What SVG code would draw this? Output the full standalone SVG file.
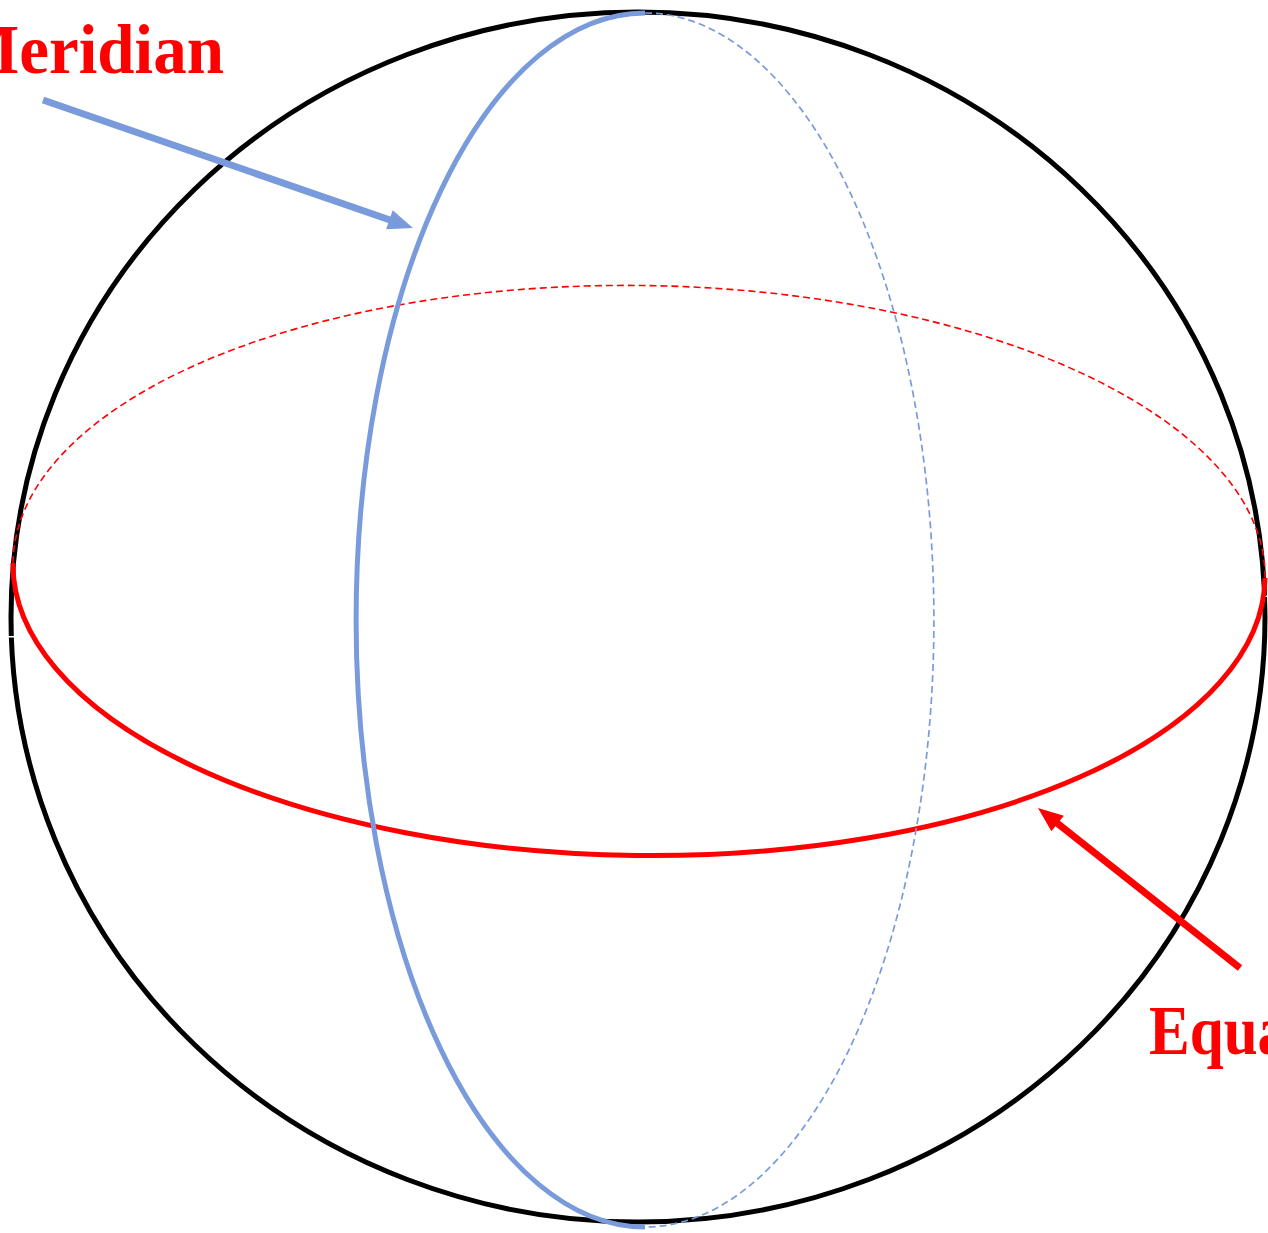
<svg xmlns="http://www.w3.org/2000/svg" width="1268" height="1233" viewBox="0 0 1268 1233">
<style>
.sphere{fill:none;stroke:#000;stroke-width:5}
.blue{fill:none;stroke:#7A9BDB;stroke-width:5}
.blued{fill:none;stroke:#7A9BDB;stroke-width:1.7;stroke-dasharray:7 4}
.red{fill:none;stroke:#FF0000;stroke-width:5}
.redd{fill:none;stroke:#FF0000;stroke-width:1.6;stroke-dasharray:7 4}
.lbl{font-family:"Liberation Serif","Times New Roman",serif;font-weight:bold;font-size:70px;fill:#FF0000}
</style>
<rect width="1268" height="1233" fill="#fff"/>
<g id="sphere">
<ellipse class="sphere" cx="638" cy="617" rx="627" ry="605"/>
<rect x="7" y="636" width="9" height="1.5" fill="#fff"/>
<rect x="1261" y="595.5" width="7" height="1.5" fill="#fff"/>
</g>
<g id="equator">
<path class="redd" d="M 13 563 A 626 285 0.69 0 1 1265 578"/>
<path class="red" d="M 13 563 A 626 285 0.69 0 0 1265 578"/>
</g>
<g id="meridian">
<path class="blued" d="M 645 13 A 289 607 0 0 1 645 1227"/>
<path class="blue" d="M 645 13 A 289 607 0 0 0 645 1227"/>
</g>
<g id="connectors">
<line x1="43" y1="100" x2="390" y2="220" stroke="#7A9BDB" stroke-width="7"/>
<polygon points="413,228 392.7,210.3 386.1,229.3" fill="#7A9BDB"/>
<line x1="1240" y1="968" x2="1057" y2="823" stroke="#FF0000" stroke-width="7"/>
<polygon points="1038,808 1063.8,815.7 1051.4,831.3" fill="#FF0000"/>
</g>
<g id="label-meridian">
<text class="lbl" x="-44" y="73" textLength="268" lengthAdjust="spacingAndGlyphs">Meridian</text>
</g>
<g id="label-equator">
<text class="lbl" x="1149" y="1054" textLength="217" lengthAdjust="spacingAndGlyphs">Equator</text>
</g>
</svg>
